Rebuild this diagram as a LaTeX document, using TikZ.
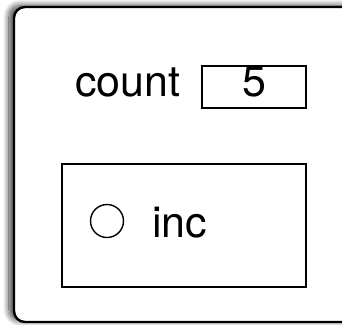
\documentclass[tikz,border=0pt]{standalone}
\usepackage{fontspec}
\setmainfont{TeX Gyre Heros}
\usetikzlibrary{shadows.blur}
\tikzset{
  x=1pt, y=-1pt,
  frame/.style={draw=black, line width=2.4pt, rounded corners=11pt, fill=white,
    blur shadow={shadow xshift=-5pt, shadow yshift=1.5pt, shadow blur radius=6pt, shadow blur steps=14, shadow opacity=75}},
  slot/.style={draw=black, line width=2.2pt, fill=white, inner sep=0pt},
  label/.style={inner sep=0pt, font=\fontsize{43}{50}\selectfont},
  dot/.style={draw=black, line width=1.4pt, circle, minimum size=33pt, inner sep=0pt}
}
\begin{document}
\begin{tikzpicture}
\useasboundingbox (0,0) rectangle (342,324);
\clip (0,0) rectangle (342,324);
% outer object frame, running past the right edge
\path[frame] (14,7) rectangle (360,322);
% field: count = 5
\node[slot, minimum width=104pt, minimum height=42pt] (valbox) at (254,87) {};
\node[label, anchor=base west] (countlbl) at (75,96) {count};
\node[label, anchor=base] (val) at (254,96) {5};
% method box
\node[slot, minimum width=244pt, minimum height=123pt] (methbox) at (184,225.5) {};
\node[dot] (radio) at (107,221) {};
\node[label, anchor=base west] (inc) at (152,237) {inc};
\end{tikzpicture}
\end{document}
